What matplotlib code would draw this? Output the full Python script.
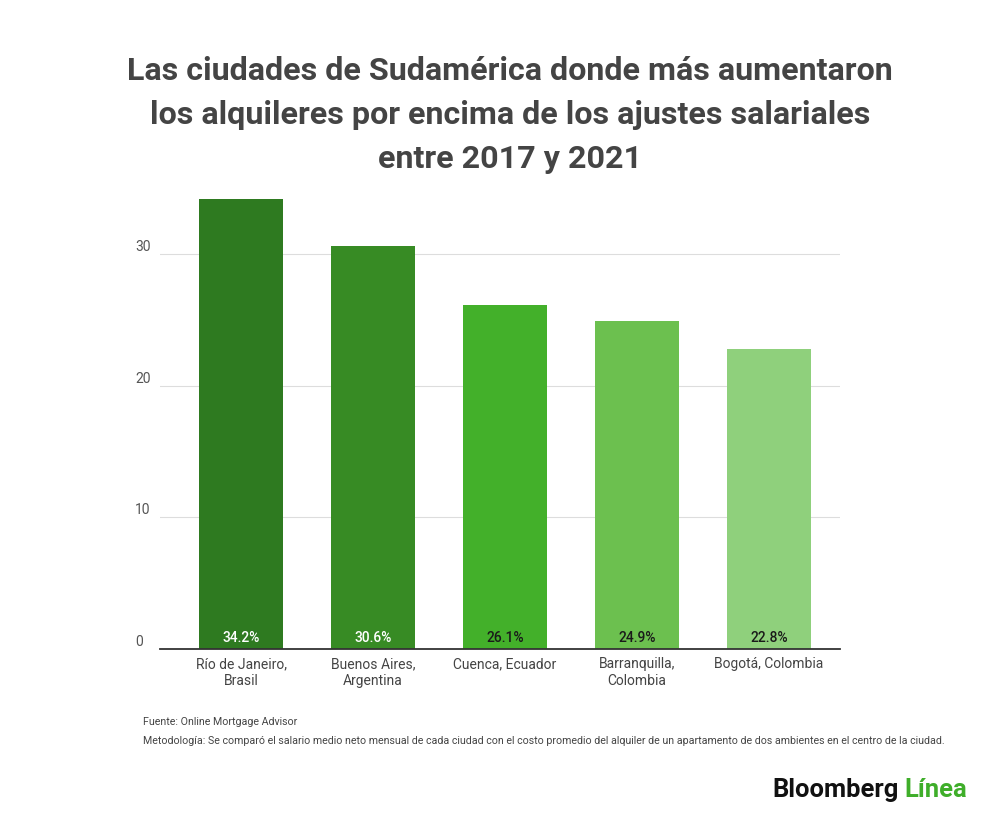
import matplotlib
matplotlib.use("Agg")
import matplotlib.pyplot as plt
import matplotlib.transforms as mtrans

cities = ["Río de Janeiro,\nBrasil", "Buenos Aires,\nArgentina", "Cuenca, Ecuador",
          "Barranquilla,\nColombia", "Bogotá, Colombia"]
values = [34.2, 30.6, 26.1, 24.9, 22.8]
value_labels = ["34.2%", "30.6%", "26.1%", "24.9%", "22.8%"]
colors = ["#2e7a20", "#378b24", "#43b02a", "#6cc04f", "#8fd07c"]
label_colors = ["white", "white", "#1a1a1a", "#1a1a1a", "#1a1a1a"]
yticks = [0, 10, 20, 30]

plt.rcParams['font.family'] = ['Roboto', 'DejaVu Sans']

fig = plt.figure(figsize=(10, 8.21), dpi=100)
W, H = 1000, 821
ax = fig.add_axes([160 / W, 1 - 649 / H, 680 / W, (649 - 188) / H])

x = list(range(len(values)))
ax.bar(x, values, width=0.63, color=colors, zorder=2)
ax.set_xlim(-0.614, 4.538)
ax.set_ylim(0, 35)

for xi, lab, c in zip(x, value_labels, label_colors):
    ax.text(xi, 0.3, lab, ha='center', va='bottom', color=c, fontsize=10,
            fontweight='medium', zorder=3)

ax.set_yticks(yticks)
ax.set_yticklabels([str(t) for t in yticks])
ax.yaxis.grid(True, color='#dddddd', linewidth=0.8, zorder=0)
for lbl in ax.get_yticklabels():
    lbl.set_horizontalalignment('left')
    lbl.set_verticalalignment('bottom')
ax.tick_params(axis='y', length=0, pad=23, labelsize=10, labelcolor='#555555')
ax.set_xticks(x)
ax.set_xticklabels(cities, fontsize=10, color='#444444', linespacing=1.25)
ax.tick_params(axis='x', length=0, pad=6)
off = mtrans.ScaledTranslation(7 / 100, 0, fig.dpi_scale_trans)
for lbl in ax.get_yticklabels():
    lbl.set_transform(lbl.get_transform() + off)

for s in ['top', 'right', 'left']:
    ax.spines[s].set_visible(False)
ax.spines['bottom'].set_color('#333333')
ax.spines['bottom'].set_linewidth(1.3)

title = ("Las ciudades de Sudamérica donde más aumentaron\n"
         "los alquileres por encima de los ajustes salariales\n"
         "entre 2017 y 2021")
fig.text(510 / W, 1 - 56 / H, title, ha='center', va='top', fontsize=23.2,
         fontweight='bold', color='#444444', linespacing=1.58)

fig.text(143 / W, 1 - 722 / H, "Fuente: Online Mortgage Advisor", fontsize=7.7,
         color='#444444', va='center')
fig.text(143 / W, 1 - 741 / H,
         "Metodología: Se comparó el salario medio neto mensual de cada ciudad con el costo promedio del alquiler de un apartamento de dos ambientes en el centro de la ciudad.",
         fontsize=7.7, color='#444444', va='center')

t1 = fig.text(772 / W, 1 - 790 / H, "Bloomberg", fontsize=18.4, fontweight='bold',
              color='#111111', va='center', ha='left')
fig.canvas.draw()
bb = t1.get_window_extent()
fig.text((bb.x1 + 6) / W, 1 - 790 / H, "Línea", fontsize=18.4, fontweight='bold',
         color='#3fae2a', va='center', ha='left')

fig.savefig("out.png", dpi=100, facecolor='white')
